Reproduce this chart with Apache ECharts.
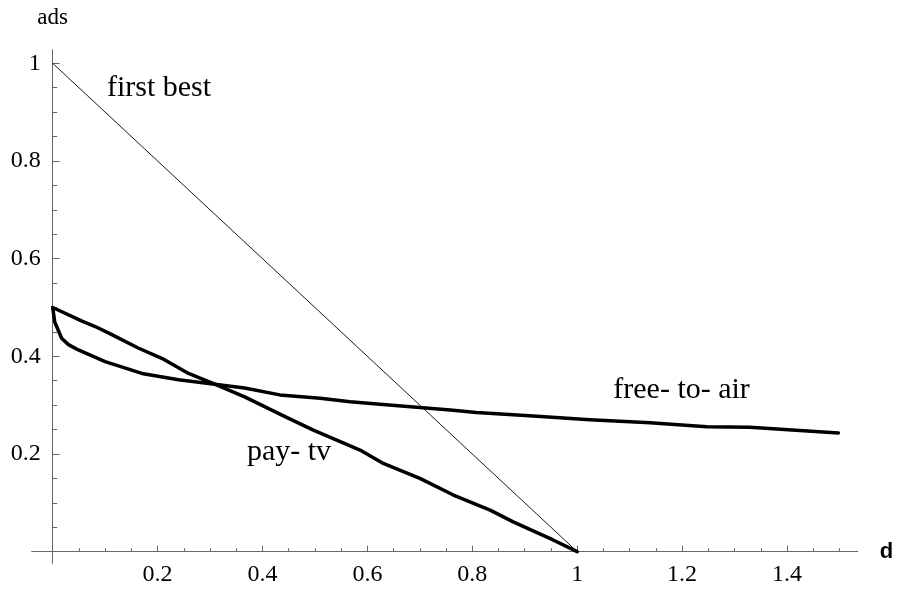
<!DOCTYPE html>
<html><head><meta charset="utf-8">
<script src="https://cdn.jsdelivr.net/npm/echarts@6/dist/echarts.min.js"></script>
<style>html,body{margin:0;padding:0;background:#fff}#c{width:900px;height:590px}</style>
</head><body><div id="c"></div>
<script>
// ---- data ----
const dFirstBest   = [0, 0.25, 0.5, 0.75, 1];
const adsFirstBest = [1, 0.75, 0.5, 0.25, 0];

const dPayTv   = [0, 0.056, 0.081, 0.11, 0.163, 0.208, 0.259, 0.309, 0.366, 0.444, 0.497, 0.586, 0.628, 0.700, 0.764, 0.834, 0.878, 0.954, 1.0];
const adsPayTv = [0.5, 0.472, 0.461, 0.446, 0.417, 0.396, 0.365, 0.343, 0.317, 0.276, 0.249, 0.208, 0.182, 0.150, 0.116, 0.085, 0.061, 0.024, 0];

const dFreeToAir   = [0, 0.004, 0.008, 0.017, 0.03, 0.049, 0.1, 0.17, 0.24, 0.309, 0.366, 0.433, 0.51, 0.567, 0.624, 0.70, 0.758, 0.808, 0.916, 1.024, 1.139, 1.247, 1.329, 1.498];
const adsFreeToAir = [0.5, 0.47, 0.46, 0.437, 0.424, 0.413, 0.389, 0.365, 0.352, 0.343, 0.335, 0.321, 0.314, 0.307, 0.302, 0.295, 0.290, 0.285, 0.278, 0.270, 0.264, 0.256, 0.255, 0.243];

const xMajorTicks = [0.2, 0.4, 0.6, 0.8, 1, 1.2, 1.4];
const xTickLabels = ['0.2', '0.4', '0.6', '0.8', '1', '1.2', '1.4'];
const xMinorTicks = [0.05, 0.1, 0.15, 0.25, 0.3, 0.35, 0.45, 0.5, 0.55, 0.65, 0.7, 0.75, 0.85, 0.9, 0.95, 1.05, 1.1, 1.15, 1.25, 1.3, 1.35, 1.45, 1.5];
const yMajorTicks = [0.2, 0.4, 0.6, 0.8, 1];
const yTickLabels = ['0.2', '0.4', '0.6', '0.8', '1'];
const yMinorTicks = [0.05, 0.1, 0.15, 0.25, 0.3, 0.35, 0.45, 0.5, 0.55, 0.65, 0.7, 0.75, 0.85, 0.9, 0.95];

const curveNames = ['first best', 'pay- tv', 'free- to- air'];
const axisNames = ['d', 'ads'];

// ---- chart ----
const zip = (xs, ys) => xs.map((x, i) => [x, ys[i]]);
const SERIF = '"Liberation Serif", "Times New Roman", serif';
const AX = '#666';
const X_MIN = -0.04, X_MAX = 1.535, Y_MIN = -0.024, Y_MAX = 1.028;

function labelFor(ticks, labels) {
  return v => {
    const i = ticks.findIndex(t => Math.abs(t - v) < 1e-9);
    return i >= 0 ? labels[i] : '';
  };
}

function curveLabel(text, coord) {
  return {
    symbol: 'circle', symbolSize: 0, silent: true, animation: false,
    data: [{ coord: coord }],
    label: { show: true, position: 'inside', formatter: text,
             fontFamily: SERIF, fontSize: 30, color: '#000' }
  };
}

const chart = echarts.init(document.getElementById('c'), null, { renderer: 'canvas' });
chart.setOption({
  animation: false,
  backgroundColor: '#fff',
  grid: { left: 31.7, right: 42.2, top: 49.6, bottom: 26.6, outerBoundsMode: 'none', containLabel: false },
  xAxis: [
    {
      type: 'value', min: X_MIN, max: X_MAX, position: 'bottom',
      name: axisNames[0], nameLocation: 'end', nameGap: 22,
      nameTextStyle: { fontFamily: '"Liberation Sans", Arial, sans-serif', fontSize: 22, fontWeight: 'bold', color: '#000', verticalAlign: 'middle' },
      axisLine: { show: true, onZero: true, lineStyle: { color: AX, width: 1 } },
      axisTick: { show: true, inside: true, length: 6, customValues: xMajorTicks, lineStyle: { color: AX, width: 1 } },
      axisLabel: { show: true, customValues: xMajorTicks, formatter: labelFor(xMajorTicks, xTickLabels), margin: -1,
                   fontFamily: SERIF, fontSize: 24, color: '#000' },
      splitLine: { show: false }
    },
    {
      type: 'value', min: X_MIN, max: X_MAX, position: 'bottom',
      axisLine: { show: true, onZero: true, lineStyle: { color: AX, width: 1, opacity: 0 } },
      axisTick: { show: true, inside: true, length: 3.5, customValues: xMinorTicks, lineStyle: { color: AX, width: 1 } },
      axisLabel: { show: false },
      splitLine: { show: false }
    }
  ],
  yAxis: [
    {
      type: 'value', min: Y_MIN, max: Y_MAX, position: 'left',
      name: axisNames[1], nameLocation: 'end', nameGap: 20,
      nameTextStyle: { fontFamily: SERIF, fontSize: 23, color: '#000' },
      axisLine: { show: true, onZero: true, lineStyle: { color: AX, width: 1 } },
      axisTick: { show: true, inside: true, length: 7, customValues: yMajorTicks, lineStyle: { color: AX, width: 1 } },
      axisLabel: { show: true, customValues: yMajorTicks, formatter: labelFor(yMajorTicks, yTickLabels), margin: -9,
                   fontFamily: SERIF, fontSize: 24, color: '#000' },
      splitLine: { show: false }
    },
    {
      type: 'value', min: Y_MIN, max: Y_MAX, position: 'left',
      axisLine: { show: true, onZero: true, lineStyle: { color: AX, width: 1, opacity: 0 } },
      axisTick: { show: true, inside: true, length: 4.5, customValues: yMinorTicks, lineStyle: { color: AX, width: 1 } },
      axisLabel: { show: false },
      splitLine: { show: false }
    }
  ],
  series: [
    {
      name: curveNames[0], type: 'line', xAxisIndex: 0, yAxisIndex: 0,
      data: zip(dFirstBest, adsFirstBest), showSymbol: false, symbol: 'none',
      lineStyle: { color: '#000', width: 0.9 }, clip: false,
      markPoint: curveLabel(curveNames[0], [0.2027, 0.949])
    },
    {
      name: curveNames[1], type: 'line', xAxisIndex: 0, yAxisIndex: 0,
      data: zip(dPayTv, adsPayTv), showSymbol: false, symbol: 'none',
      lineStyle: { color: '#000', width: 3.5, join: 'round', cap: 'round' }, clip: false,
      markPoint: curveLabel(curveNames[1], [0.4505, 0.203])
    },
    {
      name: curveNames[2], type: 'line', xAxisIndex: 0, yAxisIndex: 0,
      data: zip(dFreeToAir, adsFreeToAir), showSymbol: false, symbol: 'none',
      lineStyle: { color: '#000', width: 3.5, join: 'round', cap: 'round' }, clip: false,
      markPoint: curveLabel(curveNames[2], [1.199, 0.330])
    }
  ]
});
</script></body></html>
